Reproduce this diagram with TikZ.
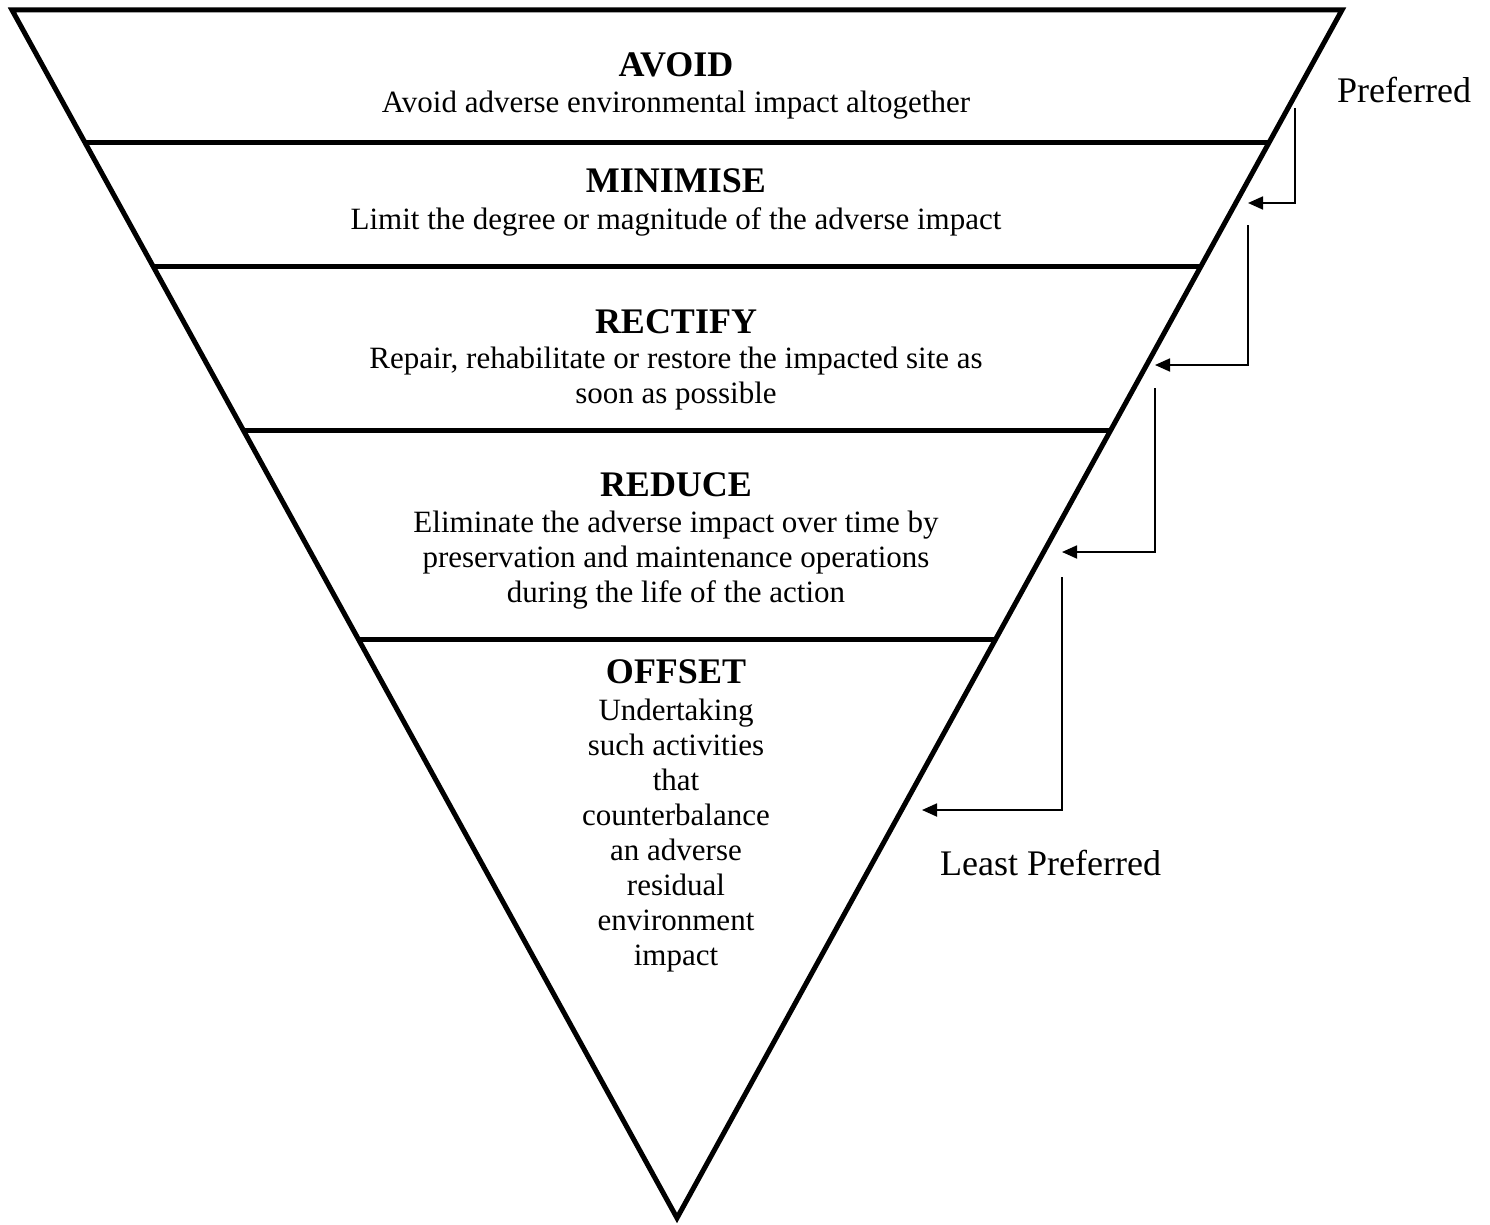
\documentclass[tikz,border=0pt]{standalone}
\usepackage{fontspec}
\setmainfont{Liberation Serif}
\usetikzlibrary{arrows.meta,calc}
\newcommand{\tlines}[1]{\begin{tabular}[t]{@{}c@{}}#1\end{tabular}}
\begin{document}
\begin{tikzpicture}[x=1pt,y=-1pt,
  edge/.style={line width=5pt,line join=miter},
  sep/.style={line width=5pt},
  conn/.style={line width=1.8pt,-{Triangle[length=15pt,width=13pt]}},
  title/.style={font=\fontsize{36}{40}\selectfont\bfseries,anchor=base,inner sep=0pt},
  body/.style={font=\fontsize{31}{35}\selectfont,anchor=base,inner sep=0pt},
  lab/.style={font=\fontsize{36}{40}\selectfont,anchor=base west,inner sep=0pt}]
\useasboundingbox (0,0) rectangle (1490,1225);
\coordinate (TL) at (12,10);
\coordinate (TR) at (1342,10);
\coordinate (AP) at (677,1218);
\draw[edge] (TL) -- (TR) -- (AP) -- cycle;
% separators
\foreach \t/\n in {0.1093/a,0.2127/b,0.3477/c,0.5207/d}{
  \draw[sep] ($(TL)!\t!(AP)$) -- ($(TR)!\t!(AP)$);
}
% texts
\node[title] (avoid) at (676,77) {AVOID};
\node[body] (avoidt) at (676,113) {Avoid adverse environmental impact altogether};
\node[title] (mini) at (676,193) {MINIMISE};
\node[body] (minit) at (676,229) {Limit the degree or magnitude of the adverse impact};
\node[title] (rect) at (676,333) {RECTIFY};
\node[body] (rectt) at (676,368) {\tlines{Repair, rehabilitate or restore the impacted site as\\soon as possible}};
\node[title] (redu) at (676,496) {REDUCE};
\node[body] (redut) at (676,532) {\tlines{Eliminate the adverse impact over time by\\preservation and maintenance operations\\during the life of the action}};
\node[title] (offs) at (676,683) {OFFSET};
\node[body] (offst) at (676,720) {\tlines{Undertaking\\such activities\\that\\counterbalance\\an adverse\\residual\\environment\\impact}};
\node[lab] (pref) at (1337,103) {Preferred};
\node[lab] (lpref) at (940,875) {Least Preferred};
% arrows
\coordinate (s1) at (1295,108); \coordinate (e1) at (1248,203);
\coordinate (s2) at (1248,225); \coordinate (e2) at (1155,365);
\coordinate (s3) at (1155,388); \coordinate (e3) at (1062,552);
\coordinate (s4) at (1062,577); \coordinate (e4) at (922,810);
\draw[conn] (s1) |- (e1);
\draw[conn] (s2) |- (e2);
\draw[conn] (s3) |- (e3);
\draw[conn] (s4) |- (e4);
\end{tikzpicture}
\end{document}
